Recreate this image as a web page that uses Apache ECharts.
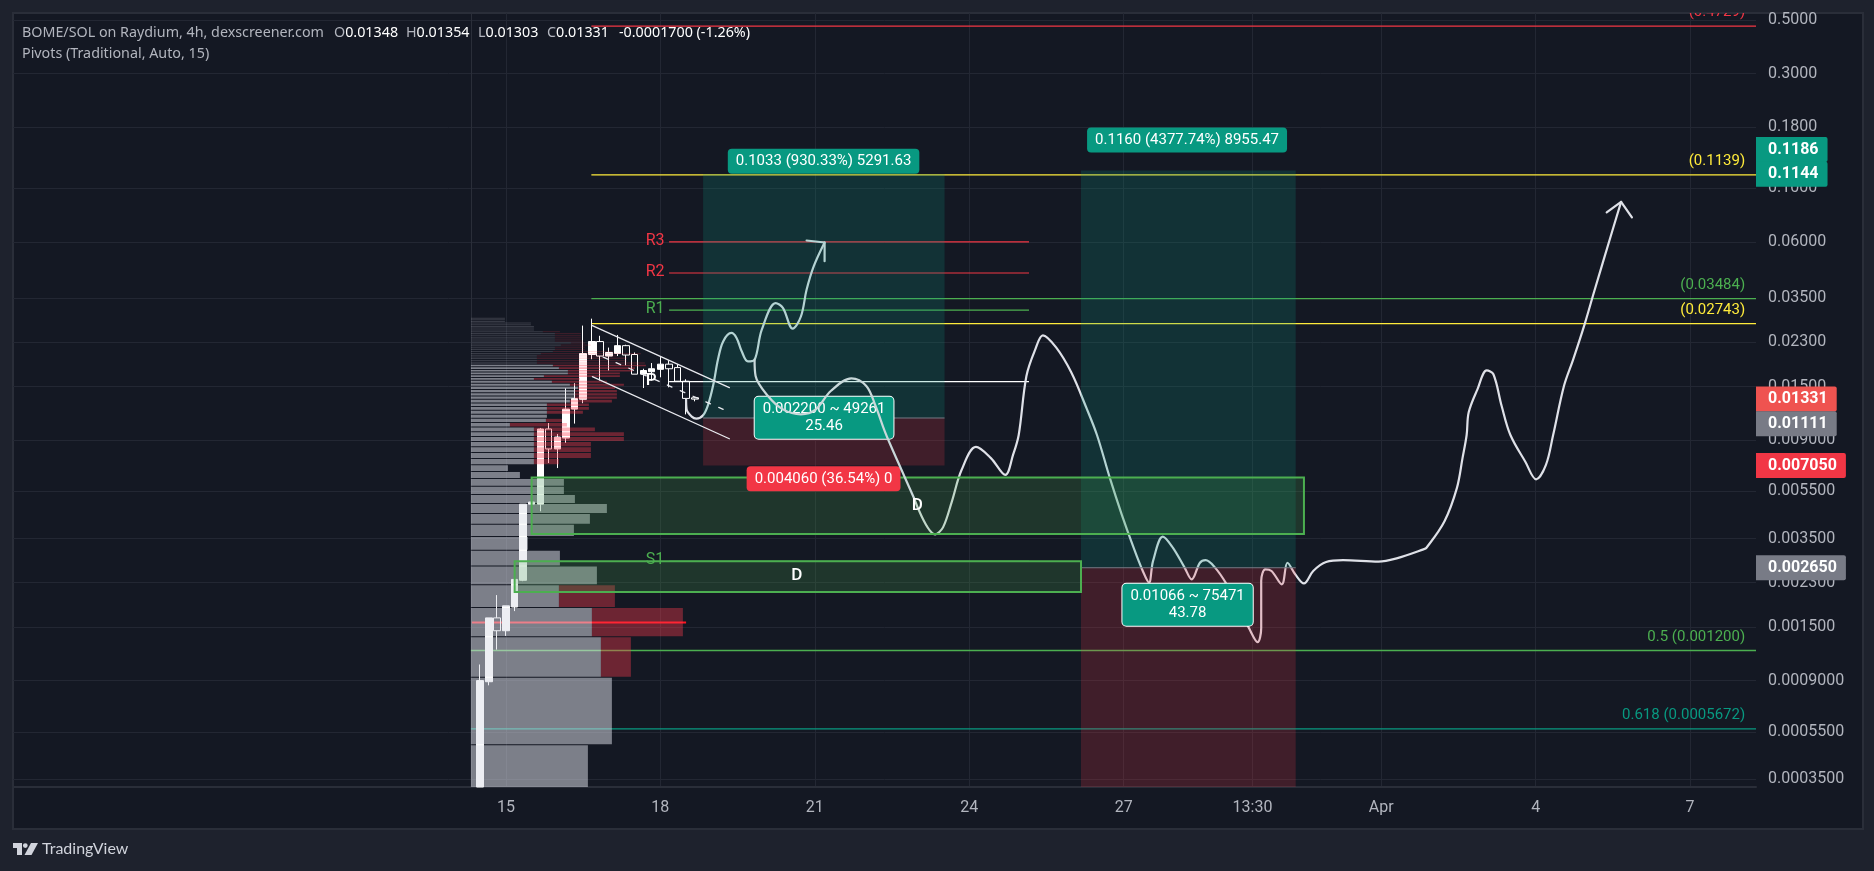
<!DOCTYPE html>
<html>
<head>
<meta charset="utf-8">
<title>BOME/SOL</title>
<script src="https://cdn.jsdelivr.net/npm/echarts@6/dist/echarts.min.js"></script>
<style>
  html, body { margin: 0; padding: 0; background: #1e222d; overflow: hidden; }
  #panel { position: absolute; left: 12px; top: 12px; width: 1848px; height: 814px; background: #141823; border: 2px solid #2a2e39; box-sizing: content-box; }
  #main { position: absolute; left: 0; top: 0; width: 1874px; height: 871px; }
</style>
</head>
<body>
<div id="panel"></div>
<div id="main"></div>
<script>
// 价格轴 / 时间轴刻度
const yTickValues = [0.5, 0.3, 0.18, 0.1, 0.06, 0.035, 0.023, 0.015, 0.009, 0.0055, 0.0035, 0.0023, 0.0015, 0.0009, 0.00055, 0.00035];
const yTickLabels = ['0.5000', '0.3000', '0.1800', '0.1000', '0.06000', '0.03500', '0.02300', '0.01500', '0.009000', '0.005500', '0.003500', '0.002300', '0.001500', '0.0009000', '0.0005500', '0.0003500'];
const xTickValues = [15, 18, 21, 24, 27, 29.5, 32, 35, 38];
const xTickLabels = ['15', '18', '21', '24', '27', '13:30', 'Apr', '4', '7'];

// K线 (x 为三月的日期)
const candleDays = [14.5, 14.67, 14.83, 15, 15.17, 15.33, 15.5, 15.67, 15.83, 16, 16.17, 16.33, 16.5, 16.67, 16.83, 17, 17.17, 17.33, 17.5, 17.67, 17.83, 18, 18.17, 18.33, 18.5, 18.67];
const candleOpen = [0.000325, 0.00089, 0.00164, 0.00145, 0.00182, 0.00235, 0.00487, 0.00487, 0.01, 0.00826, 0.00917, 0.0121, 0.01328, 0.0204, 0.0231, 0.0201, 0.0206, 0.0222, 0.0204, 0.0169, 0.0173, 0.0177, 0.0186, 0.018, 0.0158, 0.01348];
const candleClose = [0.0009, 0.00164, 0.00145, 0.00184, 0.00237, 0.00487, 0.00497, 0.01, 0.00826, 0.00926, 0.0121, 0.01338, 0.0206, 0.0231, 0.0201, 0.0208, 0.0222, 0.0203, 0.0169, 0.0175, 0.0178, 0.0186, 0.0178, 0.0158, 0.0134, 0.01331];
const candleLow = [0.000325, 0.00086, 0.00121, 0.00138, 0.00175, 0.00233, 0.00487, 0.00455, 0.00722, 0.00688, 0.00875, 0.01053, 0.0128, 0.0195, 0.0159, 0.0175, 0.0201, 0.0184, 0.0169, 0.0148, 0.0159, 0.0164, 0.0149, 0.0158, 0.0115, 0.01303];
const candleHigh = [0.00105, 0.00164, 0.00204, 0.00184, 0.00237, 0.00487, 0.00497, 0.0101, 0.01059, 0.00953, 0.01476, 0.0155, 0.0269, 0.02875, 0.0244, 0.0218, 0.0246, 0.0224, 0.0208, 0.0178, 0.0188, 0.0199, 0.0193, 0.0186, 0.0161, 0.01354];

// 成交量分布
const profileEdges = [0.000046, 0.000485, 0.000924, 0.001363, 0.001802, 0.002241, 0.00268, 0.003119, 0.003558, 0.003997, 0.004436, 0.004875, 0.005314, 0.005753, 0.006192, 0.006631, 0.00707, 0.007509, 0.007948, 0.008387, 0.008826, 0.009265, 0.009704, 0.010143, 0.010582, 0.011021, 0.01146, 0.011899, 0.012338, 0.012777, 0.013216, 0.013655, 0.014094, 0.014533, 0.014972, 0.015411, 0.01585, 0.016289, 0.016728, 0.017167, 0.017606, 0.018045, 0.018484, 0.018923, 0.019362, 0.019801, 0.02024, 0.020679, 0.021118, 0.021557, 0.021996, 0.022435, 0.022874, 0.023313, 0.023752, 0.024191, 0.02463, 0.025069, 0.025508, 0.025947, 0.026386, 0.026825, 0.027264, 0.027703, 0.028142, 0.028581, 0.02902];
const profileUp = [117, 141, 130, 121, 88, 126, 89, 57, 103, 119, 136, 104, 93, 93, 49, 37, 63, 63, 63, 63, 63, 63, 63, 39, 75, 76, 76, 76, 76, 99, 104, 104, 104, 107, 99, 81, 63, 73, 97, 97, 88, 82, 66, 66, 66, 66, 70, 82, 84, 84, 90, 100, 84, 84, 84, 84, 84, 72, 63, 63, 63, 60, 60, 34, 34, 34];
const profileDown = [0, 0, 30, 91, 56, 0, 0, 0, 0, 0, 0, 0, 0, 0, 0, 0, 25, 57, 57, 57, 90, 90, 61, 57, 16, 0, 36, 42, 42, 42, 42, 42, 42, 37, 54, 55, 46, 76, 52, 65, 76, 93, 108, 90, 90, 80, 100, 60, 30, 30, 30, 14, 28, 26, 26, 26, 26, 17, 0, 0, 0, 0, 0, 0, 0, 0];
const valueAreaTop = 41; // 以上为价值区外

// 斐波那契 / 水平位
const fibLevels = [0.4729, 0.1139, 0.03484, 0.02743, 0.0012, 0.0005672];
const fibStart = [16.66, 16.66, 16.66, 16.66, 14.32, 14.32];
const fibLabels = ['(0.4729)', '(0.1139)', '(0.03484)', '(0.02743)', '0.5 (0.001200)', '0.618 (0.0005672)'];

// 枢轴点
const pivotLevels = [0.06, 0.0445, 0.0312, 0.01574, 0.00282];
const pivotLabels = ['R3', 'R2', 'R1', 'P', 'S1'];
const pivotRange = [18.17, 25.16];
const pocRange = [14.34, 18.5];
const pocLevel = 0.00157;

// 多头仓位工具、供需区 [起始日, 结束日, 上沿价, 下沿价]
const profitBoxes = [[18.83, 23.52, 0.1144, 0.01111], [26.17, 30.34, 0.1186, 0.00265]];
const lossBoxes = [[18.83, 23.52, 0.01111, 0.00705], [26.17, 30.34, 0.00265, 0.0002]];
const zoneBoxes = [[15.5, 30.5, 0.00628, 0.00366], [15.17, 26.17, 0.00282, 0.0021]];
const zoneMarks = [[22.99, 0.00479], [20.65, 0.00245]];

// 通道
const channelUpper = [[16.68, 0.0269], [19.34, 0.01486]];
const channelLower = [[16.68, 0.0165], [19.34, 0.00911]];
const channelMiddle = [[16.89, 0.0199], [19.22, 0.01207]];

// 手绘路径
const brushStart = [[18.5, 0.01328], [18.51, 0.01207], [18.61, 0.01126], [18.7, 0.01104], [18.83, 0.0114], [18.93, 0.01266], [19.03, 0.01533], [19.12, 0.01948], [19.22, 0.02313], [19.38, 0.02507], [19.48, 0.0239], [19.58, 0.02103], [19.7, 0.0191], [19.83, 0.01942], [19.97, 0.02587], [20.24, 0.03337], [20.38, 0.0319], [20.57, 0.02612], [20.73, 0.02935], [20.84, 0.03789], [20.98, 0.04751], [21.19, 0.0596]];
const brushHeadA = [[20.84, 0.06075], [21.19, 0.0596], [21.19, 0.04983]];
const brushDrop = [[19.83, 0.01942], [19.85, 0.0166], [20.09, 0.01371], [20.38, 0.01207], [20.73, 0.01151], [21.02, 0.01207], [21.31, 0.01438], [21.71, 0.01624], [22, 0.01509], [22.18, 0.01246], [22.35, 0.0099], [22.47, 0.00858], [22.7, 0.00664], [22.93, 0.00514]];
const brushRest = [[22.93, 0.00514], [23.34, 0.00365], [23.49, 0.0039], [23.66, 0.00498], [23.85, 0.00675], [24.13, 0.00842], [24.42, 0.00757], [24.7, 0.00644], [24.85, 0.0078], [24.96, 0.00944], [25.11, 0.0166], [25.28, 0.02136], [25.43, 0.0245], [25.69, 0.02178], [25.98, 0.0172], [26.27, 0.01231], [26.48, 0.00944], [26.73, 0.00626], [26.96, 0.00442], [27.19, 0.00322], [27.37, 0.00257], [27.49, 0.0023], [27.57, 0.00283], [27.76, 0.00357], [27.95, 0.00322], [28.18, 0.00266], [28.32, 0.00237], [28.48, 0.00278], [28.59, 0.00285], [28.77, 0.00266], [29, 0.00226], [29.21, 0.00184], [29.43, 0.00149], [29.6, 0.0013], [29.67, 0.00149], [29.67, 0.00234], [29.75, 0.00261], [29.87, 0.00257], [30.07, 0.00226], [30.18, 0.00278], [30.33, 0.00249], [30.5, 0.00228], [30.68, 0.00257], [30.93, 0.0028], [31.26, 0.00285], [31.95, 0.00281], [32.3, 0.0029], [32.82, 0.00316], [32.88, 0.00321], [33.23, 0.00414], [33.47, 0.00568], [33.58, 0.00757], [33.66, 0.00944], [33.7, 0.01173], [33.87, 0.01462], [34.05, 0.01753], [34.18, 0.01688], [34.34, 0.01246], [34.51, 0.00944], [34.8, 0.00731], [35.01, 0.00618], [35.2, 0.00709], [35.34, 0.00944], [35.55, 0.01509], [35.73, 0.01948], [35.96, 0.02763], [36.13, 0.03682], [36.48, 0.06558], [36.66, 0.08797]];
const brushHeadB = [[36.38, 0.07949], [36.66, 0.08797], [36.87, 0.07576]];

// 仓位标签 [日, 价, 文本]
const labelsBehind = [[21.18, 0.01114, '0.002200 ~ 49261\n25.46'], [21.17, 0.00621, '0.004060 (36.54%) 0']];
const labelsFront = [[21.17, 0.1296, '0.1033 (930.33%) 5291.63'], [28.23, 0.159, '0.1160 (4377.74%) 8955.47'], [28.24, 0.00186, '0.01066 ~ 75471\n43.78']];

// 价格轴标签
const tagLabels = ['0.1186', '0.1144', '0.01331', '0.01111', '0.007050', '0.002650'];
const tagAnchors = [0.1451, 0.1144, 0.01331, 0.01051, 0.00705, 0.00265];

// 样式
const FONT = 'Roboto, sans-serif';
const HEAD = '"Noto Sans", Roboto, sans-serif';
const TEXT = '#b2b5be';
const GRID = '#232733';
const GREEN = '#4caf50';
const YELLOW = '#ffeb3b';
const RED = '#f23645';
const TEAL = '#089981';
const fibColors = [RED, YELLOW, GREEN, YELLOW, GREEN, TEAL];
const pivotColors = [RED, RED, GREEN, '#ffffff', GREEN];
const labelBehindColors = [TEAL, RED];
const tagColors = [TEAL, TEAL, '#ef5350', '#787b86', RED, '#787b86'];

const chart = echarts.init(document.getElementById('main'));

const candleData = candleDays.map((d, i) => [d, candleOpen[i], candleClose[i], candleLow[i], candleHigh[i]]);
const profileData = profileUp.map((v, i) => [v, v + profileDown[i], profileEdges[i], profileEdges[i + 1]]);

// 矩形
function boxRender(fill, stroke, lineWidth) {
  return function (params, api) {
    const a = api.coord([api.value(0), api.value(2)]);
    const b = api.coord([api.value(1), api.value(3)]);
    return {
      type: 'rect',
      shape: { x: a[0], y: a[1], width: b[0] - a[0], height: b[1] - a[1] },
      style: { fill: fill, stroke: stroke || 'none', lineWidth: lineWidth || 0 }
    };
  };
}

function boxSeries(data, z, fill, stroke, lineWidth) {
  return {
    type: 'custom', data: data, z: z, clip: true, silent: true,
    encode: { x: [0, 1], y: [2, 3] },
    renderItem: boxRender(fill, stroke, lineWidth)
  };
}

// 水平线
function levelSeries(data, z, colors, width) {
  return {
    type: 'custom', data: data, z: z, clip: true, silent: true,
    encode: { x: [0, 1], y: 2 },
    renderItem: function (params, api) {
      const a = api.coord([api.value(0), api.value(2)]);
      const b = api.coord([api.value(1), api.value(2)]);
      return {
        type: 'line',
        shape: { x1: a[0], y1: a[1], x2: b[0], y2: a[1] },
        style: { stroke: colors[params.dataIndex], lineWidth: width }
      };
    }
  };
}

function pathSeries(data, z, color, width, smooth, dash) {
  return {
    type: 'line', data: data, z: z, symbol: 'none', silent: true,
    smooth: smooth ? 0.35 : false,
    lineStyle: { color: color, width: width, type: dash || 'solid', cap: 'round', join: 'round' }
  };
}

function labelSeries(data, z, colors, border) {
  return {
    type: 'custom', data: data, z: z, silent: true,
    encode: { x: 0, y: 1 },
    renderItem: function (params, api) {
      const p = api.coord([api.value(0), api.value(1)]);
      return {
        type: 'text', x: p[0], y: p[1],
        style: {
          text: data[params.dataIndex][2], align: 'center', verticalAlign: 'middle',
          fill: '#fff', font: '15px ' + FONT, lineHeight: 17,
          backgroundColor: colors[params.dataIndex], padding: [4, 8], borderRadius: 4,
          borderColor: border(params.dataIndex), borderWidth: border(params.dataIndex) === 'none' ? 0 : 1
        }
      };
    }
  };
}

function ohlc(x, letter, value) {
  return {
    type: 'text', x: x, y: 26,
    style: {
      text: '{a|' + letter + '}{b|' + value + '}',
      rich: { a: { fill: TEXT, font: '14.3px ' + HEAD }, b: { fill: '#fff', font: '14.3px ' + HEAD } }
    }
  };
}

const option = {
  animation: false,
  backgroundColor: 'transparent',
  textStyle: { fontFamily: FONT },
  grid: { left: 13, right: 118, top: 13, bottom: 84 },
  xAxis: [
    {
      type: 'value', min: 5.427, max: 39.28,
      axisLine: { show: true, lineStyle: { color: '#2a2e39', width: 2 } },
      axisTick: { show: false, customValues: xTickValues },
      axisLabel: {
        color: TEXT, fontSize: 16, fontFamily: FONT, margin: 13, customValues: xTickValues,
        formatter: v => xTickLabels[xTickValues.indexOf(v)]
      },
      splitLine: { show: true, lineStyle: { color: GRID, width: 1 } }
    },
    // 成交量分布用的隐藏轴
    { type: 'value', show: false, min: -458, max: 1285.3 }
  ],
  yAxis: {
    type: 'log', logBase: 10, min: 0.000325, max: 0.536, position: 'right',
    axisLine: { show: true, lineStyle: { color: '#2a2e39', width: 1 } },
    axisTick: { show: false, customValues: yTickValues },
    axisLabel: {
      color: TEXT, fontSize: 16, fontFamily: FONT, margin: 12, padding: [2, 0, 0, 0], customValues: yTickValues,
      formatter: v => yTickLabels[yTickValues.findIndex(t => Math.abs(t - v) / t < 1e-6)]
    },
    splitLine: { show: true, lineStyle: { color: GRID, width: 1 } }
  },
  graphic: [
    { type: 'text', x: 22, y: 26, style: { text: 'BOME/SOL on Raydium, 4h, dexscreener.com', fill: TEXT, font: '14.3px ' + HEAD } },
    { type: 'text', x: 22, y: 47, style: { text: 'Pivots (Traditional, Auto, 15)', fill: TEXT, font: '14.3px ' + HEAD } },
    ohlc(334, 'O', '0.01348'),
    ohlc(406, 'H', '0.01354'),
    ohlc(478, 'L', '0.01303'),
    ohlc(547, 'C', '0.01331'),
    { type: 'text', x: 619, y: 26, style: { text: '-0.0001700 (-1.26%)', fill: '#fff', font: '14.3px ' + HEAD } },
    // logo
    { type: 'polygon', shape: { points: [[13, 843], [22, 843], [22, 855], [17, 855], [17, 848], [13, 848]] }, style: { fill: '#d1d4dc' } },
    { type: 'circle', shape: { cx: 25.3, cy: 845.6, r: 2.4 }, style: { fill: '#d1d4dc' } },
    { type: 'polygon', shape: { points: [[31, 843], [38, 843], [31.5, 855], [24.5, 855]] }, style: { fill: '#d1d4dc' } },
    { type: 'text', x: 42, y: 841, style: { text: 'TradingView', fill: '#d1d4dc', font: '16px Lato, ' + FONT } }
  ],
  series: [
    levelSeries(fibLevels.map((p, i) => [fibStart[i], 39.28, p]), 2, fibColors, 1.3),
    levelSeries(pivotLevels.map(p => [pivotRange[0], pivotRange[1], p]), 2, pivotColors, 1.2),
    levelSeries([[pocRange[0], pocRange[1], pocLevel]], 2, ['#ff1722'], 2),
    {
      type: 'candlestick', data: candleData, z: 3, barWidth: 7, silent: true, clip: true,
      encode: { x: 0, y: [1, 2, 3, 4] },
      itemStyle: { color: '#ffffff', color0: 'rgba(0,0,0,0)', borderColor: '#ffffff', borderColor0: '#ffffff', borderWidth: 1 }
    },
    // 成交量分布
    {
      type: 'custom', data: profileData, xAxisIndex: 1, z: 4, clip: true, silent: true,
      encode: { x: [0, 1], y: [2, 3] },
      renderItem: function (params, api) {
        const dim = params.dataIndex > valueAreaTop;
        const o = api.coord([0, api.value(3)]);
        const m = api.coord([api.value(0), api.value(2)]);
        const e = api.coord([api.value(1), api.value(2)]);
        const h = Math.max(m[1] - o[1] - 1, 1);
        return {
          type: 'group',
          children: [
            { type: 'rect', shape: { x: o[0], y: o[1], width: m[0] - o[0], height: h }, style: { fill: dim ? 'rgba(220,223,232,0.18)' : 'rgba(220,223,232,0.52)' } },
            { type: 'rect', shape: { x: m[0], y: o[1], width: e[0] - m[0], height: h }, style: { fill: dim ? 'rgba(255,60,79,0.18)' : 'rgba(255,60,79,0.38)' } }
          ]
        };
      }
    },
    pathSeries(brushStart, 5, '#dfe1e8', 2.2, true),
    pathSeries(brushHeadA, 5, '#dfe1e8', 2.2, false),
    pathSeries(brushRest, 5, '#dfe1e8', 2.2, true),
    pathSeries(brushHeadB, 5, '#dfe1e8', 2.2, false),
    boxSeries(profitBoxes, 6, 'rgba(8,153,129,0.2)'),
    boxSeries(lossBoxes, 6, 'rgba(242,54,69,0.2)'),
    levelSeries(profitBoxes.map(b => [b[0], b[1], b[3]]), 6, ['#787b86', '#787b86'], 1),
    boxSeries(zoneBoxes, 6, 'rgba(76,175,80,0.2)', GREEN, 2),
    pathSeries(channelUpper, 7, '#e8e9ee', 1.3),
    pathSeries(channelLower, 7, '#e8e9ee', 1.3),
    pathSeries(channelMiddle, 7, '#e8e9ee', 1.3, false, [5, 9]),
    labelSeries(labelsBehind, 8, labelBehindColors, i => i === 0 ? '#ffffff' : 'none'),
    pathSeries(brushDrop, 9, '#c9d8da', 2.2, true),
    labelSeries(labelsFront, 10, [TEAL, TEAL, TEAL], i => i === 2 ? '#ffffff' : 'none'),
    // 区域标记 D
    {
      type: 'custom', data: zoneMarks, z: 10, silent: true, encode: { x: 0, y: 1 },
      renderItem: function (params, api) {
        const p = api.coord([api.value(0), api.value(1)]);
        return { type: 'text', x: p[0], y: p[1], style: { text: 'D', align: 'center', verticalAlign: 'middle', fill: '#fff', font: '500 17px ' + FONT } };
      }
    },
    // 枢轴点文字
    {
      type: 'custom', data: pivotLevels.map(p => [pivotRange[0], p]), z: 10, silent: true, encode: { x: 0, y: 1 },
      renderItem: function (params, api) {
        const p = api.coord([api.value(0), api.value(1)]);
        const isP = pivotLabels[params.dataIndex] === 'P';
        return { type: 'text', x: p[0] - (isP ? 18 : 14), y: p[1] - 1, style: { text: pivotLabels[params.dataIndex], align: 'center', verticalAlign: 'middle', fill: pivotColors[params.dataIndex], font: (isP ? '500 17px ' : '16px ') + FONT } };
      }
    },
    // 斐波那契文字
    {
      type: 'custom', data: fibLevels.map(p => [39.07, p]), z: 10, clip: true, silent: true, encode: { x: 0, y: 1 },
      renderItem: function (params, api) {
        const p = api.coord([api.value(0), api.value(1)]);
        return { type: 'text', x: p[0], y: p[1] - 13.5, style: { text: fibLabels[params.dataIndex], align: 'right', verticalAlign: 'middle', fill: fibColors[params.dataIndex], font: '15px ' + FONT } };
      }
    },
    // 价格轴标签
    {
      type: 'custom', data: tagAnchors.map(p => [39.28, p]), z: 12, silent: true, encode: { x: 0, y: 1 },
      renderItem: function (params, api) {
        const p = api.coord([api.value(0), api.value(1)]);
        return {
          type: 'text', x: p[0], y: p[1],
          style: { text: tagLabels[params.dataIndex], align: 'left', verticalAlign: 'middle', fill: '#fff', font: 'bold 16px ' + FONT, backgroundColor: tagColors[params.dataIndex], padding: [5, 9, 4, 12], borderRadius: [0, 2, 2, 0] }
        };
      }
    }
  ]
};

chart.setOption(option);
window.addEventListener('resize', () => chart.resize());
</script>
</body>
</html>
